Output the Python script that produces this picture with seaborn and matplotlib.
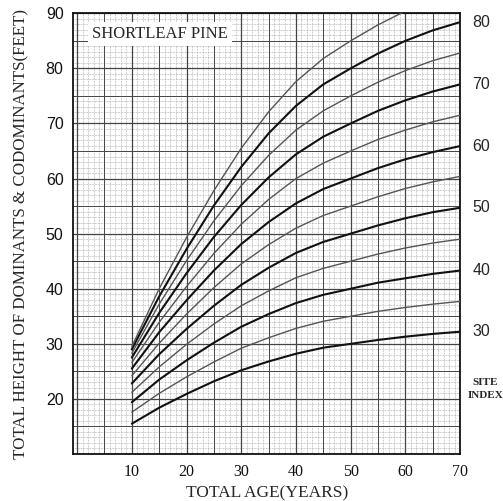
import matplotlib
matplotlib.use("Agg")
import matplotlib.pyplot as plt
import seaborn as sns
import pandas as pd

# ------------------------------------------------------------
# Data (height in feet by total age)
# ------------------------------------------------------------
ages = [10, 15, 20, 25, 30, 35, 40, 45, 50, 55, 60, 65, 70]

si30 = [15.5, 18.4, 20.9, 23.2, 25.2, 26.8, 28.2, 29.3, 30.0, 30.7, 31.3, 31.8, 32.2]
si35 = [17.6, 21.0, 24.0, 26.7, 29.2, 31.1, 32.8, 34.1, 35.0, 35.9, 36.6, 37.2, 37.7]
si40 = [19.4, 23.5, 27.0, 30.2, 33.1, 35.4, 37.4, 38.9, 40.0, 41.1, 41.9, 42.7, 43.3]
si45 = [21.2, 25.8, 29.9, 33.6, 36.9, 39.6, 42.0, 43.7, 45.0, 46.3, 47.4, 48.3, 49.0]
si50 = [22.8, 28.1, 32.7, 36.9, 40.7, 43.8, 46.5, 48.5, 50.0, 51.5, 52.8, 53.9, 54.7]
si55 = [24.2, 30.1, 35.4, 40.2, 44.5, 48.0, 51.0, 53.3, 55.0, 56.7, 58.2, 59.4, 60.4]
si60 = [25.5, 32.1, 37.9, 43.3, 48.1, 52.1, 55.5, 58.1, 60.0, 61.9, 63.5, 64.8, 65.9]
si65 = [26.6, 33.9, 40.4, 46.4, 51.7, 56.2, 60.0, 62.8, 65.0, 67.1, 68.8, 70.3, 71.5]
si70 = [27.5, 35.6, 42.8, 49.4, 55.2, 60.2, 64.4, 67.6, 70.0, 72.3, 74.2, 75.8, 77.1]
si75 = [28.3, 37.2, 45.1, 52.3, 58.7, 64.2, 68.8, 72.3, 75.0, 77.5, 79.6, 81.4, 82.8]
si80 = [29.0, 38.6, 47.2, 55.1, 62.1, 68.2, 73.2, 77.1, 80.0, 82.7, 85.0, 86.9, 88.4]
si85 = [29.5, 40.0, 49.3, 57.8, 65.5, 72.1, 77.6, 81.8, 85.0, 87.9, 90.4, 92.5, 94.1]

site_index = [30, 35, 40, 45, 50, 55, 60, 65, 70, 75, 80, 85]
curves = [si30, si35, si40, si45, si50, si55, si60, si65, si70, si75, si80, si85]

x_ticks = [10, 20, 30, 40, 50, 60, 70]
y_ticks = [20, 30, 40, 50, 60, 70, 80, 90]
right_labels = [30, 40, 50, 60, 70, 80]

rows = []
for si, h in zip(site_index, curves):
    for a, v in zip(ages, h):
        rows.append({"age": a, "height": v, "si": si})
df = pd.DataFrame(rows)

# ------------------------------------------------------------
# Figure
# ------------------------------------------------------------
sns.set_style("white")
plt.rcParams["font.family"] = ["Liberation Serif", "DejaVu Serif"]

fig = plt.figure(figsize=(5.03, 5.01), dpi=100)
ax = fig.add_axes([0.1457, 0.0938, 0.7688, 0.8796])
ax.set_xlim(-0.7, 70)
ax.set_ylim(10, 90)

# graph paper
for v in range(0, 71):
    if v % 5 == 0:
        ax.axvline(v, color="#444444", lw=0.9 if v % 10 == 0 else 0.7, zorder=1)
    else:
        ax.axvline(v, color="#9a9a9a", lw=0.5, ls=(0, (1, 1.2)), zorder=0)
for v in range(10, 91):
    if v % 5 == 0:
        ax.axhline(v, color="#444444", lw=0.9 if v % 10 == 0 else 0.7, zorder=1)
    else:
        ax.axhline(v, color="#9a9a9a", lw=0.5, ls=(0, (1, 1.2)), zorder=0)

# site index curves
for si in site_index:
    sub = df[df["si"] == si]
    major = si % 10 == 0
    sns.lineplot(data=sub, x="age", y="height", ax=ax,
                 color="#111111" if major else "#555555",
                 linewidth=1.5 if major else 1.0, zorder=3)

# right hand labels at the curve ends
for si, h in zip(site_index, curves):
    if si in right_labels:
        ax.text(72.3, h[-1], str(si), ha="left", va="center", fontsize=11.5,
                family="Liberation Sans", clip_on=False)
ax.text(74.6, 21.8, "SITE\nINDEX", ha="center", va="center", fontsize=8,
        fontweight="bold", linespacing=1.45, clip_on=False)

ax.text(2.8, 86.3, "SHORTLEAF PINE", ha="left", va="center", fontsize=12,
        zorder=5, bbox=dict(facecolor="white", edgecolor="none", pad=3))

ax.set_xticks(x_ticks)
ax.set_yticks(y_ticks)
ax.set_xticklabels([str(t) for t in x_ticks], fontsize=11.5)
ax.set_yticklabels([str(t) for t in y_ticks], fontsize=11.5, family="Liberation Sans")
ax.tick_params(length=0, pad=7, colors="#111111")
ax.set_xlabel("TOTAL AGE(YEARS)", fontsize=12.5, labelpad=4)
ax.set_ylabel("TOTAL HEIGHT OF DOMINANTS & CODOMINANTS(FEET)", fontsize=12.2, labelpad=12)
for s in ax.spines.values():
    s.set_visible(True)
    s.set_color("#111111")
    s.set_linewidth(1.3)

fig.savefig("out.png", dpi=100)
